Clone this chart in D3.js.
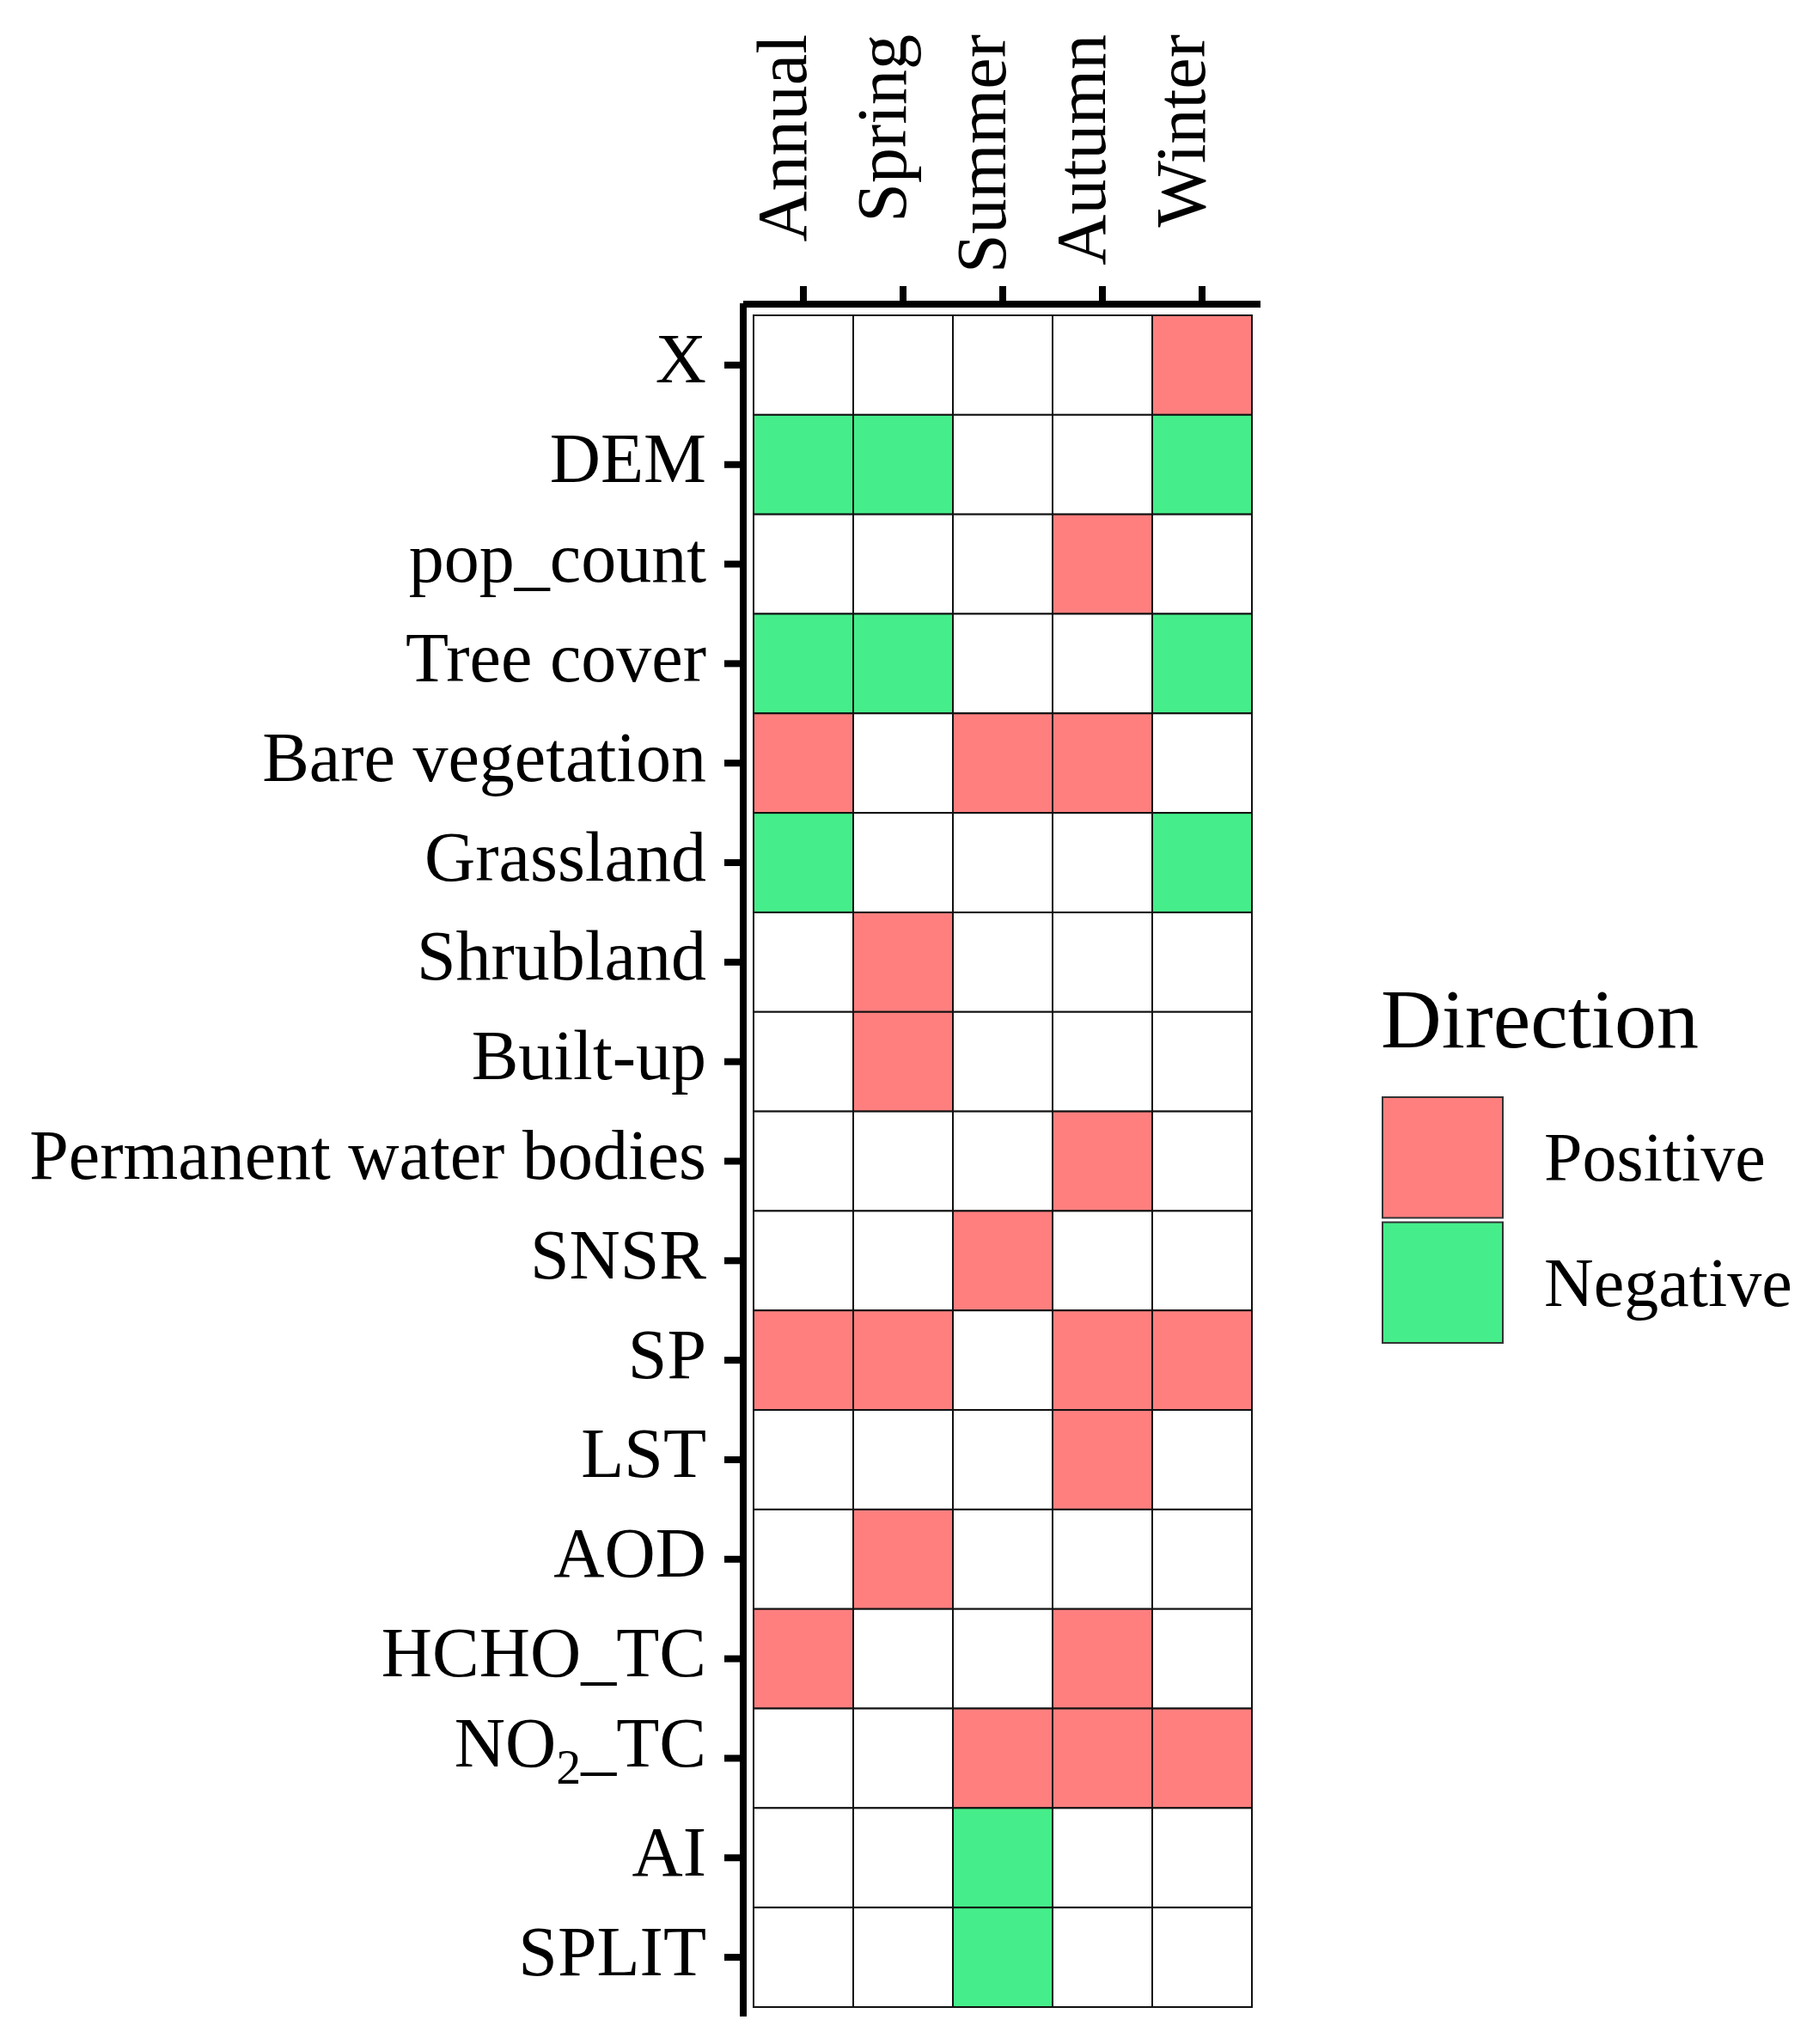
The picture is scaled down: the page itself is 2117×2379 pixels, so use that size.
<!DOCTYPE html>
<html>
<head>
<meta charset="utf-8">
<script src="https://cdn.jsdelivr.net/npm/d3@7"></script>
<style>
  html, body { margin: 0; padding: 0; background: #ffffff; }
  svg { display: block; }
  text { font-family: "Liberation Serif", "Times New Roman", serif; fill: #000; }
</style>
</head>
<body>
<svg id="chart" width="2117" height="2379"></svg>
<script>
// ---- data ----
const variables = ["X", "DEM", "pop_count", "Tree cover", "Bare vegetation", "Grassland",
  "Shrubland", "Built-up", "Permanent water bodies", "SNSR", "SP", "LST", "AOD",
  "HCHO_TC", "NO2_TC", "AI", "SPLIT"];
const seasons = ["Annual", "Spring", "Summer", "Autumn", "Winter"];
// 1 = Positive, -1 = Negative, 0 = not significant (one value per variable)
const annual = [0, -1, 0, -1, 1, -1, 0, 0, 0, 0, 1, 0, 0, 1, 0, 0, 0];
const spring = [0, -1, 0, -1, 0, 0, 1, 1, 0, 0, 1, 0, 1, 0, 0, 0, 0];
const summer = [0, 0, 0, 0, 1, 0, 0, 0, 0, 1, 0, 0, 0, 0, 1, -1, -1];
const autumn = [0, 0, 1, 0, 1, 0, 0, 0, 1, 0, 1, 1, 0, 1, 1, 0, 0];
const winter = [1, -1, 0, -1, 0, -1, 0, 0, 0, 0, 1, 0, 0, 0, 1, 0, 0];
const legendLabels = ["Positive", "Negative"];
const legendTitle = "Direction";

const seriesBySeason = { Annual: annual, Spring: spring, Summer: summer, Autumn: autumn, Winter: winter };

const cells = [];
seasons.forEach(s => {
  seriesBySeason[s].forEach((v, i) => cells.push({ season: s, variable: variables[i], value: v }));
});

// ---- layout ----
const svg = d3.select("#chart");
svg.append("rect").attr("width", 2117).attr("height", 2379).attr("fill", "#fff");

const gridLeft = 877, gridRight = 1457, gridTop = 367, gridBottom = 2336;
const x = d3.scaleBand().domain(seasons).range([gridLeft, gridRight]).padding(0);
const y = d3.scaleBand().domain(variables).range([gridTop, gridBottom]).padding(0);

const color = d3.scaleOrdinal().domain(legendLabels).range(["#FF7F7F", "#45EE8A"]);
const fillFor = v => v === 1 ? color("Positive") : v === -1 ? color("Negative") : "#ffffff";

// cells
svg.append("g").selectAll("rect").data(cells).join("rect")
  .attr("x", d => x(d.season))
  .attr("y", d => y(d.variable))
  .attr("width", x.bandwidth())
  .attr("height", y.bandwidth())
  .attr("fill", d => fillFor(d.value))
  .attr("stroke", "#111")
  .attr("stroke-width", 2);

// axis lines
const axisX0 = 865, axisY0 = 354, axisW = 8;
svg.append("line").attr("x1", axisX0).attr("x2", 1467).attr("y1", axisY0).attr("y2", axisY0)
  .attr("stroke", "#000").attr("stroke-width", axisW);
svg.append("line").attr("x1", axisX0).attr("x2", axisX0).attr("y1", axisY0 - 1).attr("y2", 2347)
  .attr("stroke", "#000").attr("stroke-width", axisW);

// left axis (ticks + labels)
const yAxis = d3.axisLeft(y).tickSize(19).tickPadding(21).tickSizeOuter(0);
const gy = svg.append("g").attr("transform", `translate(${axisX0 - 3},0)`).call(yAxis);
gy.select(".domain").remove();
gy.selectAll(".tick line").attr("stroke", "#000").attr("stroke-width", axisW);
gy.selectAll(".tick text")
  .attr("font-size", 82)
  .attr("font-family", "'Liberation Serif', 'Times New Roman', serif")
  .attr("fill", "#000")
  .attr("dy", "0.25em")
  .each(function(d) {
    if (d === "NO2_TC") {
      const t = d3.select(this).text("").attr("dy", "0.12em");
      t.append("tspan").text("NO");
      t.append("tspan").text("2").attr("font-size", 58).attr("dy", 20);
      t.append("tspan").text("_TC").attr("dy", -20);
    }
  });

// top axis (ticks)
const xAxis = d3.axisTop(x).tickSize(24).tickSizeOuter(0).tickFormat("");
const gx = svg.append("g").attr("transform", `translate(0,${axisY0 + 3})`).call(xAxis);
gx.select(".domain").remove();
gx.selectAll(".tick line").attr("stroke", "#000").attr("stroke-width", axisW);

// top labels (rotated)
svg.append("g").selectAll("text").data(seasons).join("text")
  .attr("transform", d => `translate(${x(d) + x.bandwidth() / 2 + 3},40) rotate(-90)`)
  .attr("text-anchor", "end")
  .attr("font-size", 82)
  .text(d => d);

// legend
const lg = svg.append("g");
lg.append("text").attr("x", 1607).attr("y", 1219).attr("font-size", 98).text(legendTitle);
const keyY = d3.scaleBand().domain(legendLabels).range([1277, 1563]).paddingInner(0.035);
lg.selectAll("rect").data(legendLabels).join("rect")
  .attr("x", 1609).attr("y", d => keyY(d))
  .attr("width", 140).attr("height", keyY.bandwidth())
  .attr("fill", d => color(d)).attr("stroke", "#333").attr("stroke-width", 2);
lg.selectAll("text.lab").data(legendLabels).join("text").attr("class", "lab")
  .attr("x", 1797).attr("y", d => keyY(d) + keyY.bandwidth() / 2 + 27)
  .attr("font-size", 80).text(d => d);
</script>
</body>
</html>
